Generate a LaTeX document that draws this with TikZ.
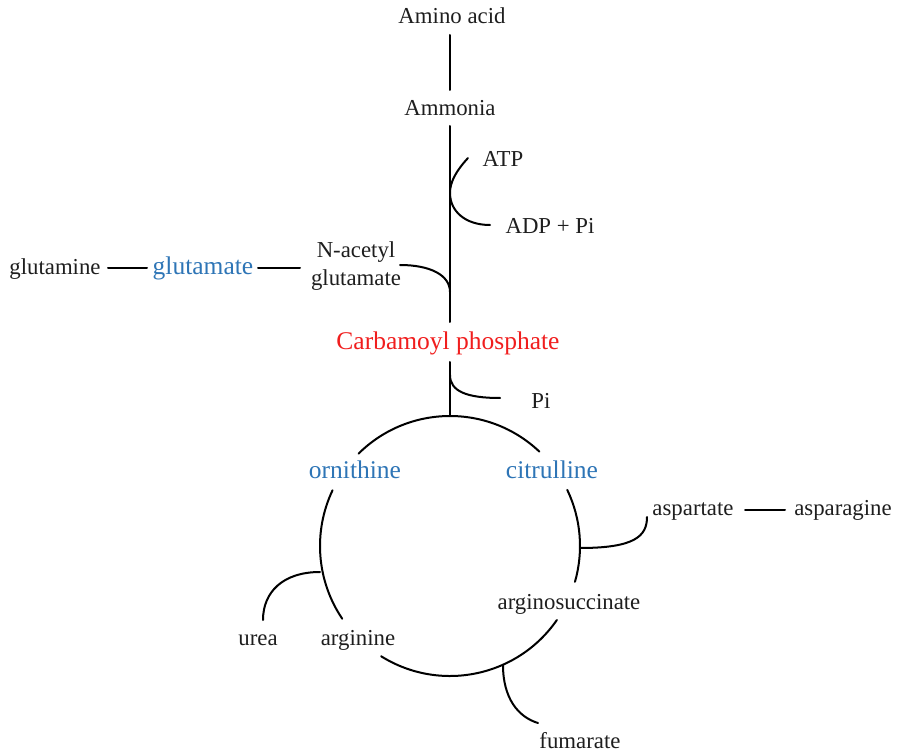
\documentclass[tikz,border=0pt]{standalone}
\usepackage{fontspec}
\setmainfont{Liberation Serif}
\definecolor{cblue}{RGB}{46,117,182}
\definecolor{cred}{RGB}{240,30,30}
\begin{document}
\begin{tikzpicture}[x=1pt,y=1pt,
  lbl/.style={anchor=base,inner sep=0pt,text={rgb,255:red,30;green,30;blue,30},font=\fontsize{22.8}{27}\selectfont},
  keyb/.style={anchor=base,inner sep=0pt,text=cblue,font=\fontsize{25.5}{30}\selectfont},
  keyr/.style={anchor=base,inner sep=0pt,text=cred,font=\fontsize{25.5}{30}\selectfont},
  conn/.style={line width=2pt,line cap=round}]
\useasboundingbox (0,0) rectangle (898,-754);
% text nodes
\node[lbl] (aa) at (452,-24) {Amino acid};
\node[lbl] (amm) at (450,-116) {Ammonia};
\node[lbl] (atp) at (503,-167) {ATP};
\node[lbl] (adp) at (550,-234) {ADP + Pi};
\node[lbl] (nac1) at (356,-258) {N-acetyl};
\node[lbl] (nac2) at (356,-286) {glutamate};
\node[lbl] (gln) at (55,-275) {glutamine};
\node[keyb] (glu) at (203,-275) {glutamate};
\node[keyr] (cp) at (448,-350) {Carbamoyl phosphate};
\node[lbl] (pi) at (541,-409) {Pi};
\node[keyb] (orn) at (355,-478) {ornithine};
\node[keyb] (cit) at (552,-478) {citrulline};
\node[lbl] (asp) at (693,-515) {aspartate};
\node[lbl] (asn) at (843,-515) {asparagine};
\node[lbl] (as) at (569,-609) {arginosuccinate};
\node[lbl] (urea) at (258,-645) {urea};
\node[lbl] (arg) at (358,-645) {arginine};
\node[lbl] (fum) at (580,-748) {fumarate};
% junction coordinates
\coordinate (a1) at (450,-35);
\coordinate (a2) at (450,-90);
\coordinate (m1) at (450,-126);
\coordinate (m2) at (450,-322);
\coordinate (c1) at (450,-362);
\coordinate (ctop) at (450,-416);
\coordinate (cc) at (450,-546);
\coordinate (atpE) at (468,-158);
\coordinate (atpJ) at (450,-193);
\coordinate (adpE) at (490,-225);
\coordinate (nacE) at (400,-265);
\coordinate (nacJ) at (450,-292);
\coordinate (piJ) at (450,-375);
\coordinate (piE) at (500,-398);
\coordinate (l1a) at (108,-268);
\coordinate (l1b) at (147,-268);
\coordinate (l2a) at (258,-268);
\coordinate (l2b) at (300,-268);
\coordinate (l3a) at (745,-510);
\coordinate (l3b) at (785,-510);
\coordinate (aspJ) at (580,-548);
\coordinate (aspE) at (647,-517);
\coordinate (ureaJ) at (320,-572);
\coordinate (ureaE) at (263,-620);
\coordinate (fumJ) at (503,-665);
\coordinate (fumE) at (538,-723);
% main line
\draw[conn] (a1) -- (a2);
\draw[conn] (m1) -- (m2);
\draw[conn] (c1) -- (ctop);
% side curves
\draw[conn] (atpE) .. controls (456,-171) and (450,-182) .. (atpJ)
  .. controls (450,-211) and (465,-225) .. (adpE);
\draw[conn] (nacE) .. controls (430,-265) and (450,-275) .. (nacJ);
\draw[conn] (piJ) .. controls (450,-391) and (466,-398) .. (piE);
\draw[conn] (l1a) -- (l1b);
\draw[conn] (l2a) -- (l2b);
\draw[conn] (l3a) -- (l3b);
% cycle arcs
\draw[conn] (cc) ++(46.6:130) arc[start angle=46.6,end angle=134.7,radius=130];
\draw[conn] (cc) ++(154.6:130) arc[start angle=154.6,end angle=214,radius=130];
\draw[conn] (cc) ++(238:130) arc[start angle=238,end angle=325.3,radius=130];
\draw[conn] (cc) ++(-16:130) arc[start angle=-16,end angle=25.6,radius=130];
% cycle branches
\draw[conn] (aspJ) .. controls (635,-548) and (647,-536) .. (aspE);
\draw[conn] (ureaJ) .. controls (283,-572) and (263,-592) .. (ureaE);
\draw[conn] (fumJ) .. controls (503,-698) and (518,-717) .. (fumE);
\end{tikzpicture}
\end{document}
